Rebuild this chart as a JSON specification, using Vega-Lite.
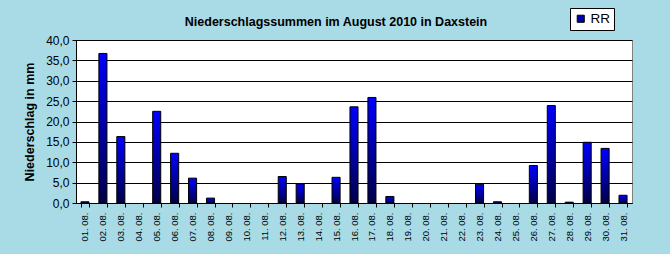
{
  "$schema": "https://vega.github.io/schema/vega-lite/v6.json",
  "width": 556,
  "height": 163,
  "autosize": {"type": "none"},
  "padding": {"left": 76, "top": 40, "right": 38, "bottom": 51},
  "background": "#a9dbe6",
  "config": {
    "font": "Liberation Sans",
    "view": {"fill": "white", "stroke": "#808080", "strokeWidth": 1}
  },
  "title": {
    "text": "Niederschlagssummen im August 2010 in Daxstein",
    "fontSize": 12.5,
    "fontWeight": "bold",
    "color": "black",
    "offset": -21,
    "dx": -18
  },
  "data": {
    "values": [
      {"tag": "01. 08.", "rr": 0.3, "s": "RR"},
      {"tag": "02. 08.", "rr": 36.7, "s": "RR"},
      {"tag": "03. 08.", "rr": 16.3, "s": "RR"},
      {"tag": "04. 08.", "rr": 0, "s": "RR"},
      {"tag": "05. 08.", "rr": 22.5, "s": "RR"},
      {"tag": "06. 08.", "rr": 12.2, "s": "RR"},
      {"tag": "07. 08.", "rr": 6.1, "s": "RR"},
      {"tag": "08. 08.", "rr": 1.2, "s": "RR"},
      {"tag": "09. 08.", "rr": 0, "s": "RR"},
      {"tag": "10. 08.", "rr": 0, "s": "RR"},
      {"tag": "11. 08.", "rr": 0, "s": "RR"},
      {"tag": "12. 08.", "rr": 6.5, "s": "RR"},
      {"tag": "13. 08.", "rr": 4.7, "s": "RR"},
      {"tag": "14. 08.", "rr": 0, "s": "RR"},
      {"tag": "15. 08.", "rr": 6.3, "s": "RR"},
      {"tag": "16. 08.", "rr": 23.6, "s": "RR"},
      {"tag": "17. 08.", "rr": 25.9, "s": "RR"},
      {"tag": "18. 08.", "rr": 1.6, "s": "RR"},
      {"tag": "19. 08.", "rr": 0, "s": "RR"},
      {"tag": "20. 08.", "rr": 0, "s": "RR"},
      {"tag": "21. 08.", "rr": 0, "s": "RR"},
      {"tag": "22. 08.", "rr": 0, "s": "RR"},
      {"tag": "23. 08.", "rr": 4.6, "s": "RR"},
      {"tag": "24. 08.", "rr": 0.3, "s": "RR"},
      {"tag": "25. 08.", "rr": 0, "s": "RR"},
      {"tag": "26. 08.", "rr": 9.2, "s": "RR"},
      {"tag": "27. 08.", "rr": 23.9, "s": "RR"},
      {"tag": "28. 08.", "rr": 0.2, "s": "RR"},
      {"tag": "29. 08.", "rr": 14.9, "s": "RR"},
      {"tag": "30. 08.", "rr": 13.4, "s": "RR"},
      {"tag": "31. 08.", "rr": 1.9, "s": "RR"}
    ]
  },
  "encoding": {
    "x": {
      "field": "tag",
      "type": "nominal",
      "sort": null,
      "scale": {"paddingInner": 0.55, "paddingOuter": 0.275},
      "axis": {
        "title": null,
        "labelAngle": -90,
        "labelAlign": "right",
        "labelBaseline": "middle",
        "labelFontSize": 9.5,
        "labelColor": "black",
        "labelPadding": 5,
        "tickBand": "extent",
        "tickSize": 4,
        "tickColor": "black",
        "domainColor": "black",
        "grid": false
      }
    },
    "y": {
      "field": "rr",
      "type": "quantitative",
      "scale": {"domain": [0, 40], "nice": false},
      "axis": {
        "title": "Niederschlag in mm",
        "titleFontSize": 12.5,
        "titleFontWeight": "bold",
        "titleColor": "black",
        "titlePadding": 9,
        "values": [0, 5, 10, 15, 20, 25, 30, 35, 40],
        "labelExpr": "replace(format(datum.value, '.1f'), '.', ',')",
        "labelFontSize": 12,
        "labelColor": "black",
        "labelPadding": 3,
        "tickSize": 4,
        "tickColor": "black",
        "domainColor": "black",
        "gridColor": "black",
        "gridOpacity": 1,
        "gridWidth": 1
      }
    }
  },
  "layer": [
    {
      "mark": {
        "type": "bar",
        "stroke": "black",
        "strokeWidth": 1,
        "color": {
          "gradient": "linear",
          "x1": 0, "y1": 0, "x2": 0, "y2": 1,
          "stops": [
            {"offset": 0, "color": "#0000ff"},
            {"offset": 1, "color": "#00004a"}
          ]
        }
      },
      "encoding": {
        "opacity": {"condition": {"test": "datum.rr > 0", "value": 1}, "value": 0}
      }
    },
    {
      "mark": {"type": "point", "shape": "square", "filled": true, "opacity": 0},
      "encoding": {
        "y": {"datum": 0},
        "color": {
          "field": "s",
          "type": "nominal",
          "scale": {"range": ["#0000a8"]},
          "legend": {
            "title": null,
            "orient": "none",
            "legendX": 494,
            "legendY": -32,
            "fillColor": "white",
            "strokeColor": "black",
            "padding": 4,
            "symbolType": "square",
            "symbolSize": 50,
            "symbolOpacity": 1,
            "symbolFillColor": "#0000a8",
            "symbolStrokeColor": "black",
            "symbolStrokeWidth": 1,
            "labelFontSize": 13.5,
            "labelColor": "black",
            "labelOffset": 3,
            "offset": 0
          }
        }
      }
    }
  ]
}
